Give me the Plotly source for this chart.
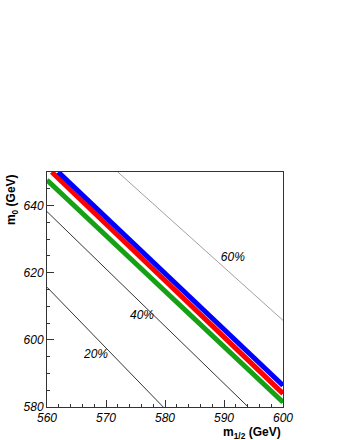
import plotly.graph_objects as go

# Contour lines (endpoints)
line20_x = [560.0, 579.7]
line20_y = [615.7, 580.0]
line40_x = [560.0, 594.1]
line40_y = [638.2, 580.0]
line60_x = [572.0, 600.0]
line60_y = [650.0, 605.8]

green_x = [560.0, 600.0]
green_y = [647.6, 581.4]
red_x = [560.8, 600.0]
red_y = [650.0, 584.0]
blue_x = [561.9, 600.0]
blue_y = [650.0, 586.4]

labels_text = ["20%", "40%", "60%"]
labels_x = [568.3, 576.1, 591.5]
labels_y = [595.4, 607.0, 624.3]

x_ticks = [560, 570, 580, 590, 600]
y_ticks = [580, 600, 620, 640]

fig = go.Figure()
thin = [(line20_x, line20_y, "#333333"), (line40_x, line40_y, "#333333"), (line60_x, line60_y, "#a0a0a0")]
for xs, ys, c in thin:
    fig.add_trace(go.Scatter(x=xs, y=ys, mode="lines", line=dict(color=c, width=1), hoverinfo="skip"))
thick = [(green_x, green_y, "#16a016"), (red_x, red_y, "#ff0000"), (blue_x, blue_y, "#0000ff")]
for xs, ys, c in thick:
    fig.add_trace(go.Scatter(x=xs, y=ys, mode="lines", line=dict(color=c, width=5), hoverinfo="skip"))

fig.add_trace(go.Scatter(x=labels_x, y=labels_y, mode="text", text=labels_text,
                         textfont=dict(family="Liberation Sans", size=12, color="black", style="italic"),
                         hoverinfo="skip"))

axis_common = dict(showgrid=False, zeroline=False, showline=True, linecolor="#333333", linewidth=1,
                   mirror=True, ticks="inside", ticklen=7, tickcolor="#333333",
                   tickfont=dict(family="Liberation Sans", size=12, color="black", style="italic"))
fig.update_xaxes(range=[560, 600], tickvals=x_ticks, ticktext=[str(v) for v in x_ticks],
                 minor=dict(dtick=2, ticks="inside", ticklen=3, tickcolor="#333333", tick0=560),
                 **axis_common)
fig.update_yaxes(range=[580, 650], tickvals=y_ticks, ticktext=[str(v) for v in y_ticks],
                 minor=dict(dtick=5, ticks="inside", ticklen=3, tickcolor="#333333", tick0=580),
                 **axis_common)

fig.update_layout(
    width=340, height=440,
    margin=dict(l=47, r=57, t=172, b=33),
    plot_bgcolor="white", paper_bgcolor="white",
    showlegend=False,
    annotations=[
        dict(text="<b>m<sub>1/2</sub> (GeV)</b>", xref="paper", yref="paper", x=1.0, y=-0.066,
             xanchor="right", yanchor="top", showarrow=False,
             font=dict(family="Liberation Sans", size=12, color="black")),
        dict(text="<b>m<sub>0</sub> (GeV)</b>", xref="paper", yref="paper", x=-0.15, y=1.0,
             xanchor="center", yanchor="top", textangle=-90, showarrow=False,
             font=dict(family="Liberation Sans", size=12, color="black")),
    ],
)
fig.write_html("out.html", config={"displayModeBar": False},
               post_script="document.body.style.margin='0';document.body.style.overflow='hidden';")
